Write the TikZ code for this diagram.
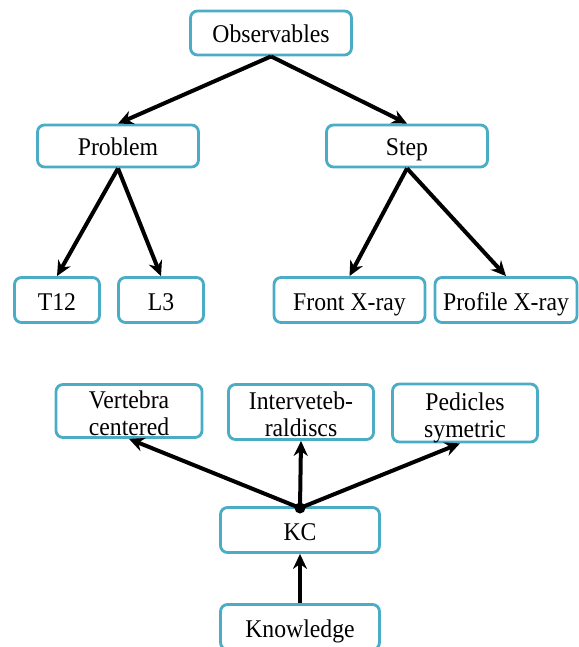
\documentclass[tikz,border=0pt]{standalone}
\usepackage{fontspec}
\setmainfont[FakeStretch=0.93]{Liberation Serif}
\usetikzlibrary{arrows.meta}
\definecolor{boxblue}{RGB}{75,172,198}
\begin{document}
\begin{tikzpicture}[x=1pt,y=-1pt,
  box/.style={draw=boxblue,line width=2.8pt,rounded corners=7pt,fill=white,
    inner sep=0pt,align=center,font=\fontsize{25.5}{27}\selectfont},
  one/.style={box,text height=20pt,text depth=0pt},
  two/.style={box,text height=49pt,text depth=0pt},
  conn/.style={line width=4pt,-{Stealth[length=15pt,width=14pt]}}]
\useasboundingbox (0,0) rectangle (578,647);
\node[one,minimum width=161pt,minimum height=44pt] (obs) at (271,33) {Observables};
\node[one,minimum width=161pt,minimum height=42pt] (prob) at (118,146) {Problem};
\node[one,minimum width=161pt,minimum height=42pt] (step) at (407,146) {Step};
\node[one,minimum width=85pt,minimum height=45pt] (t12) at (57,300) {T12};
\node[one,minimum width=85pt,minimum height=45pt] (l3) at (161,300) {L3};
\node[one,minimum width=151pt,minimum height=45pt] (front) at (349.5,300) {Front X-ray};
\node[one,minimum width=142pt,minimum height=45pt] (prof) at (506,300) {Profile X-ray};
\node[two,minimum width=146pt,minimum height=53pt] (vert) at (129,411) {Vertebra\\centered};
\node[two,minimum width=145pt,minimum height=55pt] (inter) at (301,412) {Interveteb-\\raldiscs};
\node[two,minimum width=145pt,minimum height=58pt] (ped) at (465,413) {Pedicles\\symetric};
\node[one,minimum width=159pt,minimum height=45pt] (kc) at (300,530) {KC};
\node[one,minimum width=159pt,minimum height=45pt] (know) at (300,627) {Knowledge};
\coordinate (hub) at (300,508);
\draw[conn] (obs.south) -- (prob.north);
\draw[conn] (obs.south) -- (step.north);
\draw[conn] (prob.south) -- (t12.north);
\draw[conn] (prob.south) -- (l3.north);
\draw[conn] (step.south) -- (front.north);
\draw[conn] (step.south) -- (prof.north);
\draw[conn] (hub) -- (vert.south);
\draw[conn] (hub) -- (inter.south);
\draw[conn] (hub) -- ([xshift=-5pt]ped.south);
\fill (hub) circle (5.5pt);
\draw[conn] (know.north) -- (kc.south);
\end{tikzpicture}
\end{document}
